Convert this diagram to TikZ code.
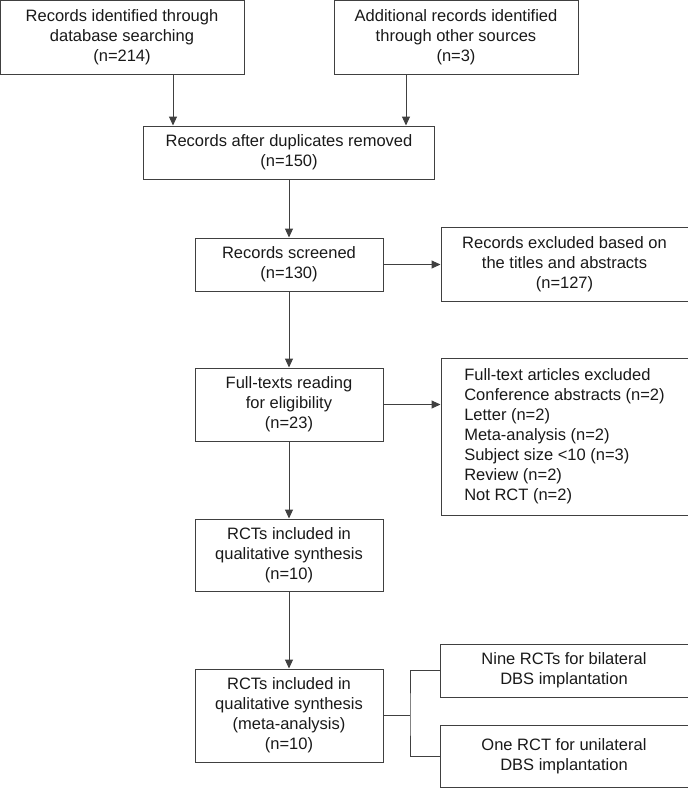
\documentclass[tikz,border=0pt]{standalone}
\usepackage{fontspec}
\setmainfont{Liberation Sans}
\usepackage{tikz}
\usetikzlibrary{arrows.meta, positioning}

\begin{document}
\begin{tikzpicture}[
  x=1pt, y=-1pt,
  box/.style={rectangle, draw=black!75, line width=1pt, inner sep=0pt,
              align=center, text=black!90, font=\fontsize{16.5}{20}\selectfont},
  arrow/.style={-{Triangle[length=9pt,width=8pt]}, draw=black!75, line width=1pt},
  link/.style={draw=black!75, line width=1pt}
]
\useasboundingbox (0,0) rectangle (688,788);
\node[box, minimum width=244pt, minimum height=74pt] (db)     at (122,37)    {Records identified through\\database searching\\(n=214)};
\node[box, minimum width=244pt, minimum height=74pt] (other)  at (456,37)    {Additional records identified\\through other sources\\(n=3)};
\node[box, minimum width=291pt, minimum height=53pt] (dup)    at (289,152.5) {Records after duplicates removed\\(n=150)};
\node[box, minimum width=188pt, minimum height=53pt] (screen) at (289,264.5) {Records screened\\(n=130)};
\node[box, minimum width=247pt, minimum height=74pt] (excl1)  at (564.5,264) {Records excluded based on\\the titles and abstracts\\(n=127)};
\node[box, minimum width=188pt, minimum height=73pt] (full)   at (289,404.5) {Full-texts reading\\for eligibility\\(n=23)};
\node[box, minimum width=247pt, minimum height=157pt, align=left] (excl2) at (564.5,436.5)
  {Full-text articles excluded\\Conference abstracts (n=2)\\Letter (n=2)\\Meta-analysis (n=2)\\Subject size <10 (n=3)\\Review (n=2)\\Not RCT (n=2)};
\node[box, minimum width=188pt, minimum height=72pt] (qual)   at (289,555)   {RCTs included in\\qualitative synthesis\\(n=10)};
\node[box, minimum width=188pt, minimum height=93pt] (meta)   at (289,715.5) {RCTs included in\\qualitative synthesis\\(meta-analysis)\\(n=10)};
\node[box, minimum width=248pt, minimum height=53pt] (nine)   at (564,670.5) {Nine RCTs for bilateral\\DBS implantation};
\node[box, minimum width=248pt, minimum height=62pt] (one)    at (564,756)   {One RCT for unilateral\\DBS implantation};
\coordinate (split) at (410,715.5);
\draw[arrow] ([xshift=30pt]dup.north west |- db.south) -- ([xshift=30pt]dup.north west);
\draw[arrow] ([xshift=-29pt]dup.north east |- other.south) -- ([xshift=-29pt]dup.north east);
\draw[arrow] (dup) -- (screen);
\draw[arrow] (screen) -- (excl1.west |- screen.east);
\draw[arrow] (screen) -- (full);
\draw[arrow] (full) -- (excl2.west |- full.east);
\draw[arrow] (full) -- (qual);
\draw[arrow] (qual) -- (meta);
\draw[link] (meta.east) -- (split);
\draw[link] (nine.west) -| (split) |- (one.west);
\end{tikzpicture}
\end{document}
